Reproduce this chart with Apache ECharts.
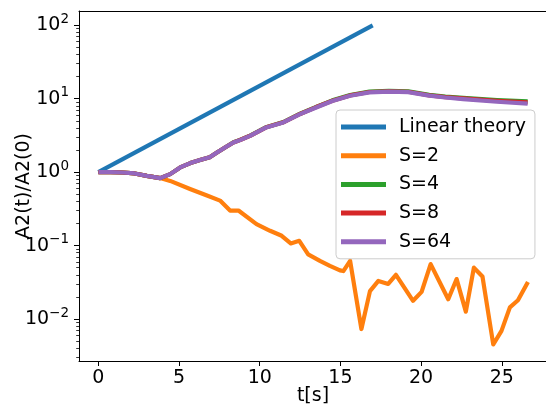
<!DOCTYPE html>
<html>
<head>
<meta charset="utf-8">
<script src="https://cdn.jsdelivr.net/npm/echarts@6/dist/echarts.min.js"></script>
<style>html,body{margin:0;padding:0;background:#fff}#c{width:546px;height:406px}</style>
</head>
<body>
<div id="c"></div>
<script>
// ---- data ----
const seriesNames = ['Linear theory', 'S=2', 'S=4', 'S=8', 'S=64'];
const tLinear = [0, 17];
const linearTheory = [1, 100];
const tS2 = [0, 0.75, 1.5, 2.25, 3.0, 3.83, 4.45, 5.68, 6.73, 7.54, 8.16, 8.68, 9.8, 10.64, 11.36, 11.92, 12.45, 13.0, 13.73, 14.35, 14.97, 15.18, 15.6, 16.3, 16.83, 17.35, 17.96, 18.44, 19.5, 20.03, 20.59, 21.68, 22.2, 22.77, 23.27, 23.8, 24.47, 24.98, 25.5, 26.0, 26.62];
const s2 = [1.0, 1.0, 0.99, 0.96, 0.89, 0.83, 0.76, 0.59, 0.48, 0.41, 0.30, 0.30, 0.196, 0.159, 0.136, 0.107, 0.116, 0.076, 0.062, 0.053, 0.046, 0.045, 0.062, 0.0073, 0.024, 0.033, 0.030, 0.040, 0.0177, 0.0234, 0.056, 0.0186, 0.035, 0.0126, 0.05, 0.038, 0.0045, 0.0069, 0.0144, 0.018, 0.032];
const tS = [0, 0.75, 1.5, 2.25, 3.0, 3.83, 4.45, 5.07, 5.7, 6.3, 6.9, 7.35, 7.9, 8.37, 8.78, 9.4, 10.4, 11.46, 12.5, 13.5, 14.5, 15.6, 16.8, 18.0, 19.2, 20.5, 21.5, 22.6, 24.7, 26.6];
const s4 = [1.0, 1.0, 0.99, 0.96, 0.89, 0.83, 0.94, 1.16, 1.33, 1.46, 1.6, 1.85, 2.2, 2.55, 2.75, 3.15, 4.1, 4.8, 6.25, 7.75, 9.5, 11.2, 12.5, 12.8, 12.6, 11.3, 10.7, 10.3, 9.6, 9.2];
const s8 = [1.0, 1.0, 0.99, 0.96, 0.89, 0.83, 0.94, 1.16, 1.33, 1.46, 1.6, 1.85, 2.2, 2.54, 2.74, 3.13, 4.08, 4.78, 6.2, 7.7, 9.4, 11.1, 12.35, 12.65, 12.45, 11.1, 10.5, 10.1, 9.35, 8.9];
const s64 = [1.0, 1.0, 0.99, 0.96, 0.89, 0.83, 0.94, 1.16, 1.33, 1.46, 1.6, 1.85, 2.2, 2.54, 2.73, 3.12, 4.06, 4.75, 6.17, 7.6, 9.3, 10.96, 12.2, 12.5, 12.3, 11.0, 10.4, 9.9, 9.1, 8.6];
const xTicks = [0, 5, 10, 15, 20, 25];
const yMajorTicks = [0.01, 0.1, 1, 10, 100];
const yMinorTicks = [0.003, 0.004, 0.005, 0.006, 0.007, 0.008, 0.009,
  0.02, 0.03, 0.04, 0.05, 0.06, 0.07, 0.08, 0.09,
  0.2, 0.3, 0.4, 0.5, 0.6, 0.7, 0.8, 0.9,
  2, 3, 4, 5, 6, 7, 8, 9,
  20, 30, 40, 50, 60, 70, 80, 90];
const colors = ['#1f77b4', '#ff7f0e', '#2ca02c', '#d62728', '#9467bd'];

const pairs = (xs, ys) => xs.map((x, i) => [x, ys[i]]);
const FONT = 'DejaVu Sans';
const X_MIN = -1.2, X_MAX = 27.8, Y_MIN = 0.00268, Y_MAX = 156.6;

const chart = echarts.init(document.getElementById('c'), null, {renderer: 'canvas'});
const lineSeries = (name, data, color) => ({
  name, type: 'line', data, showSymbol: false, symbol: 'none', smooth: false,
  xAxisIndex: 0, yAxisIndex: 0,
  lineStyle: {width: 4.2, color, cap: 'butt', join: 'round'}, itemStyle: {color},
  emphasis: {disabled: true}
});

chart.setOption({
  animation: false,
  backgroundColor: '#fff',
  textStyle: {fontFamily: FONT},
  grid: {left: 79, top: 11, width: 468, height: 350, containLabel: false, outerBoundsMode: 'none'},
  xAxis: [{
    type: 'value', min: X_MIN, max: X_MAX, position: 'bottom',
    name: 't[s]', nameLocation: 'middle', nameGap: 26, nameMoveOverlap: false,
    nameTextStyle: {fontFamily: FONT, fontSize: 19, color: '#000'},
    axisLine: {show: true, onZero: false, lineStyle: {color: '#000', width: 1}},
    axisTick: {show: true, length: 5, inside: false, customValues: xTicks, lineStyle: {color: '#000', width: 1}},
    axisLabel: {customValues: xTicks, margin: 8, fontFamily: FONT, fontSize: 19, color: '#000'},
    splitLine: {show: false}
  }, {
    type: 'value', min: X_MIN, max: X_MAX, position: 'top',
    axisLine: {show: true, onZero: false, lineStyle: {color: '#000', width: 1}},
    axisTick: {show: false}, axisLabel: {show: false}, splitLine: {show: false}
  }],
  yAxis: [{
    type: 'log', logBase: 10, min: Y_MIN, max: Y_MAX, position: 'left',
    name: 'A2(t)/A2(0)', nameLocation: 'middle', nameGap: 45, nameRotate: 90, nameMoveOverlap: false,
    nameTextStyle: {fontFamily: FONT, fontSize: 19, color: '#000'},
    axisLine: {show: true, onZero: false, lineStyle: {color: '#000', width: 1}},
    axisTick: {show: true, length: 5, customValues: yMajorTicks, lineStyle: {color: '#000', width: 1}},
    axisLabel: {
      customValues: yMajorTicks, margin: 10, color: '#000',
      formatter: v => {
        const e = Math.round(Math.log10(v));
        return '{b|10}{s|' + (e < 0 ? '\u2212' + (-e) : e) + '}';
      },
      rich: {
        b: {fontFamily: FONT, fontSize: 19, color: '#000'},
        s: {fontFamily: FONT, fontSize: 13.5, color: '#000', padding: [0, 0, 12, 0]}
      }
    },
    splitLine: {show: false}
  }, {
    type: 'log', logBase: 10, min: Y_MIN, max: Y_MAX, position: 'left',
    axisLine: {show: false, onZero: false},
    axisTick: {show: true, length: 2.8, customValues: yMinorTicks, lineStyle: {color: '#000', width: 0.8}},
    axisLabel: {show: false}, splitLine: {show: false}
  }],
  legend: {
    show: true, orient: 'vertical', left: 336, top: 110,
    padding: [7, 9, 7, 5], itemGap: 8.7, itemWidth: 45, itemHeight: 5,
    icon: 'rect',
    backgroundColor: 'rgba(255,255,255,0.8)', borderColor: '#cccccc', borderWidth: 1, borderRadius: 4,
    textStyle: {fontFamily: FONT, fontSize: 19, color: '#000', lineHeight: 20, padding: [0, 0, 0, 8]},
    data: seriesNames,
    selectedMode: false
  },
  series: [
    lineSeries(seriesNames[0], pairs(tLinear, linearTheory), colors[0]),
    lineSeries(seriesNames[1], pairs(tS2, s2), colors[1]),
    lineSeries(seriesNames[2], pairs(tS, s4), colors[2]),
    lineSeries(seriesNames[3], pairs(tS, s8), colors[3]),
    lineSeries(seriesNames[4], pairs(tS, s64), colors[4])
  ]
});
</script>
</body>
</html>
